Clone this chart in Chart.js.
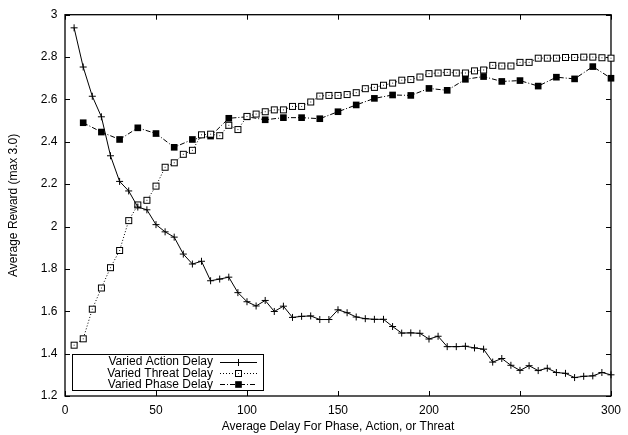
<!DOCTYPE html>
<html><head><meta charset="utf-8">
<script src="https://cdn.jsdelivr.net/npm/chart.js@4/dist/chart.umd.min.js"></script>
<style>html,body{margin:0;padding:0;background:#fff}canvas{display:block}</style>
</head><body>
<canvas id="c" width="628" height="435" style="width:628px;height:435px"></canvas>
<script>
// ---- data ----
const actionX = [5,10,15,20,25,30,35,40,45,50,55,60,65,70,75,80,85,90,95,100,105,110,115,120,125,130,135,140,145,150,155,160,165,170,175,180,185,190,195,200,205,210,215,220,225,230,235,240,245,250,255,260,265,270,275,280,285,290,295,300];
const actionY = [2.938,2.753,2.615,2.518,2.334,2.213,2.168,2.092,2.079,2.009,1.975,1.950,1.870,1.823,1.836,1.744,1.752,1.761,1.688,1.645,1.625,1.651,1.599,1.624,1.571,1.576,1.578,1.561,1.561,1.607,1.593,1.573,1.565,1.562,1.562,1.528,1.497,1.498,1.496,1.469,1.482,1.433,1.433,1.435,1.427,1.421,1.360,1.377,1.345,1.321,1.343,1.320,1.331,1.311,1.307,1.287,1.293,1.295,1.311,1.300];
const threatX = [5,10,15,20,25,30,35,40,45,50,55,60,65,70,75,80,85,90,95,100,105,110,115,120,125,130,135,140,145,150,155,160,165,170,175,180,185,190,195,200,205,210,215,220,225,230,235,240,245,250,255,260,265,270,275,280,285,290,295,300];
const threatY = [1.440,1.470,1.610,1.710,1.806,1.887,2.028,2.102,2.124,2.191,2.280,2.301,2.341,2.360,2.433,2.436,2.429,2.478,2.458,2.520,2.531,2.542,2.551,2.551,2.567,2.567,2.588,2.616,2.619,2.619,2.623,2.632,2.651,2.657,2.667,2.677,2.691,2.694,2.706,2.722,2.725,2.728,2.725,2.725,2.735,2.739,2.761,2.758,2.758,2.775,2.775,2.795,2.795,2.795,2.798,2.798,2.800,2.800,2.797,2.795];
const phaseX = [10,20,30,40,50,60,70,80,90,100,110,120,130,140,150,160,170,180,190,200,210,220,230,240,250,260,270,280,290,300];
const phaseY = [2.490,2.446,2.411,2.466,2.439,2.374,2.411,2.427,2.511,2.518,2.504,2.514,2.514,2.509,2.542,2.574,2.605,2.621,2.619,2.652,2.643,2.695,2.708,2.685,2.689,2.663,2.705,2.697,2.755,2.700];
const seriesLabels = ["Varied Action Delay","Varied Threat Delay","Varied Phase Delay"];
const xTicks = [0,50,100,150,200,250,300];
const yTicks = [1.2,1.4,1.6,1.8,2,2.2,2.4,2.6,2.8,3];
const yTickLabels = ["1.2","1.4","1.6","1.8","2","2.2","2.4","2.6","2.8","3"];
const xTitle = "Average Delay For Phase, Action, or Threat";
const yTitle = "Average Reward (max 3.0)";

const FONT = "'Liberation Sans', Arial, Helvetica, sans-serif";
const FS = 12;
const pts = (xs, ys) => xs.map((x, i) => ({x, y: ys[i]}));

// open square marker with a dot in the middle
function boxMarker() {
  const c = document.createElement('canvas');
  c.width = 9; c.height = 9;
  const g = c.getContext('2d');
  g.fillStyle = '#fff'; g.fillRect(1, 1, 7, 7);
  g.strokeStyle = '#000'; g.lineWidth = 1; g.strokeRect(1.5, 1.5, 6, 6);
  g.fillStyle = '#333'; g.fillRect(4, 4, 1, 1);
  return c;
}
const boxImg = boxMarker();

const frameTicks = {
  id: 'frameTicks',
  beforeDatasetsDraw(chart) {
    const {ctx, chartArea: a, scales} = chart;
    ctx.save();
    ctx.strokeStyle = '#000';
    ctx.lineWidth = 1;
    const L = 5;
    ctx.beginPath();
    xTicks.forEach(v => {
      const px = Math.round(scales.x.getPixelForValue(v)) + 0.5;
      ctx.moveTo(px, a.bottom); ctx.lineTo(px, a.bottom - L);
      ctx.moveTo(px, a.top); ctx.lineTo(px, a.top + L);
    });
    yTicks.forEach(v => {
      const py = Math.round(scales.y.getPixelForValue(v)) + 0.5;
      ctx.moveTo(a.left, py); ctx.lineTo(a.left + L, py);
      ctx.moveTo(a.right, py); ctx.lineTo(a.right - L, py);
    });
    ctx.stroke();
    ctx.lineWidth = 1.3;
    ctx.strokeRect(a.left, a.top, a.right - a.left, a.bottom - a.top);
    ctx.restore();
  }
};

const boxLegend = {
  id: 'boxLegend',
  afterDraw(chart) {
    const {ctx} = chart;
    const x0 = 72.5, y0 = 354.5, x1 = 263.5, y1 = 390.5;
    ctx.save();
    ctx.fillStyle = '#fff';
    ctx.fillRect(x0, y0, x1 - x0, y1 - y0);
    ctx.strokeStyle = '#000'; ctx.lineWidth = 1;
    ctx.strokeRect(x0, y0, x1 - x0, y1 - y0);
    ctx.font = FS + 'px ' + FONT;
    ctx.textAlign = 'right'; ctx.textBaseline = 'middle';
    chart.data.datasets.forEach((ds, i) => {
      const y = 361.5 + i * 11.2;
      const yl = Math.round(y) + 0.5;
      ctx.fillStyle = '#000';
      ctx.fillText(ds.label, 213, y + 0.5);
      ctx.strokeStyle = '#000'; ctx.lineWidth = 1;
      ctx.setLineDash(ds.borderDash || []);
      ctx.beginPath(); ctx.moveTo(220, yl); ctx.lineTo(257, yl); ctx.stroke();
      ctx.setLineDash([]);
      if (ds.pointStyle === 'rect') {
        const s = ds.pointRadius * Math.SQRT1_2;
        ctx.fillStyle = '#000';
        ctx.fillRect(238.5 - s, yl - s, 2 * s, 2 * s);
      } else {
        ctx.fillStyle = ds.pointBackgroundColor;
        Chart.helpers.drawPoint(ctx, {
          pointStyle: ds.pointStyle, radius: ds.pointRadius, borderWidth: 1, rotation: 0
        }, 238.5, yl);
      }
    });
    ctx.restore();
  }
};

new Chart(document.getElementById('c'), {
  type: 'line',
  data: {
    datasets: [
      { label: seriesLabels[0], data: pts(actionX, actionY), borderColor: '#000', borderWidth: 1,
        pointStyle: 'cross', pointRadius: 3.5, pointBorderWidth: 1, pointBorderColor: '#000',
        pointBackgroundColor: '#000', fill: false, tension: 0, clip: false },
      { label: seriesLabels[1], data: pts(threatX, threatY), borderColor: '#000', borderWidth: 1,
        borderDash: [1, 2], pointStyle: boxImg, pointRadius: 4.5, pointBorderColor: '#000',
        pointBackgroundColor: '#fff', fill: false, tension: 0, clip: false },
      { label: seriesLabels[2], data: pts(phaseX, phaseY), borderColor: '#000', borderWidth: 1,
        borderDash: [5, 2, 1, 2], pointStyle: 'rect', pointRadius: 4.7, pointBorderWidth: 0,
        pointBorderColor: '#000', pointBackgroundColor: '#000', fill: false, tension: 0, clip: false }
    ]
  },
  options: {
    responsive: false, animation: false, devicePixelRatio: 1,
    layout: { padding: { top: 9, right: 11, left: 0, bottom: 0 } },
    plugins: { legend: { display: false }, tooltip: { enabled: false } },
    scales: {
      x: {
        type: 'linear', min: 0, max: 300,
        afterFit: s => { s.height = 39; },
        afterBuildTicks: s => { s.ticks = xTicks.map(v => ({value: v})); },
        grid: { display: false, drawTicks: false },
        border: { display: false },
        ticks: { color: '#000', padding: 7, maxRotation: 0, font: { family: FONT, size: FS } },
        title: { display: true, text: xTitle, color: '#000', padding: { top: 0, bottom: 1 }, font: { family: FONT, size: FS } }
      },
      y: {
        type: 'linear', min: 1.2, max: 3,
        afterFit: s => { s.width = 65; },
        afterBuildTicks: s => { s.ticks = yTicks.map(v => ({value: v})); },
        grid: { display: false, drawTicks: false },
        border: { display: false },
        ticks: { color: '#000', padding: 7.5, font: { family: FONT, size: FS },
          callback: (v) => { const i = yTicks.findIndex(t => Math.abs(t - v) < 1e-6); return i >= 0 ? yTickLabels[i] : ''; } },
        title: { display: true, text: yTitle, color: '#000', padding: { top: 6, bottom: 0 }, font: { family: FONT, size: FS } }
      }
    }
  },
  plugins: [frameTicks, boxLegend]
});
</script>
</body></html>
